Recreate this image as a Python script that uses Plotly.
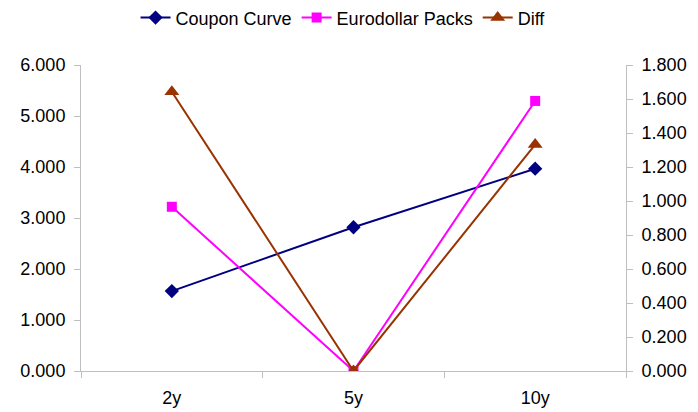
import plotly.graph_objects as go

categories = ["2y", "5y", "10y"]
coupon_curve = [1.567, 2.819, 3.967]
eurodollar_packs = [3.22, 0.0, 5.295]
diff = [1.643, 0.0, 1.332]

left_ticks = [0, 1, 2, 3, 4, 5, 6]
right_ticks = [0, 0.2, 0.4, 0.6, 0.8, 1.0, 1.2, 1.4, 1.6, 1.8]

font = dict(family="Liberation Sans, Arial, sans-serif", size=18, color="#000000")
axis_color = "#BFBFBF"

fig = go.Figure()
fig.add_trace(go.Scatter(
    x=categories, y=coupon_curve, name="Coupon Curve", mode="lines+markers",
    line=dict(color="#000080", width=2),
    marker=dict(symbol="diamond", size=11, color="#000080"),
    yaxis="y"))
fig.add_trace(go.Scatter(
    x=categories, y=eurodollar_packs, name="Eurodollar Packs", mode="lines+markers",
    line=dict(color="#FF00FF", width=2),
    marker=dict(symbol="square", size=10, color="#FF00FF"),
    yaxis="y"))
fig.add_trace(go.Scatter(
    x=categories, y=diff, name="Diff", mode="lines+markers",
    line=dict(color="#993300", width=2),
    marker=dict(symbol="triangle-up", size=13, color="#993300"),
    yaxis="y2"))

fig.update_layout(
    width=698, height=412,
    margin=dict(l=70, r=80, t=57, b=47),
    paper_bgcolor="white", plot_bgcolor="white",
    font=font,
    showlegend=True,
    legend=dict(orientation="h", x=0.48, xanchor="center", xref="container",
                y=0.976, yanchor="middle", yref="container",
                font=dict(size=18), itemwidth=30, tracegroupgap=0),
    xaxis=dict(type="category", showgrid=False, showline=True, linecolor=axis_color,
               linewidth=1, ticks="outside", tickson="boundaries", ticklen=6,
               tickcolor=axis_color, range=[-0.5, 2.5], zeroline=False,
               ticklabelstandoff=10),
    yaxis=dict(range=[0, 6], tickvals=left_ticks, tickformat=".3f", showgrid=False,
               showline=True, linecolor=axis_color, ticks="outside", ticklen=6,
               tickcolor=axis_color, zeroline=False, ticklabelstandoff=5),
    yaxis2=dict(range=[0, 1.8], tickvals=right_ticks, tickformat=".3f", showgrid=False,
                overlaying="y", side="right", showline=True, linecolor=axis_color,
                ticks="outside", ticklen=6, tickcolor=axis_color, zeroline=False,
                ticklabelstandoff=5),
)

fig.write_html("out.html")
